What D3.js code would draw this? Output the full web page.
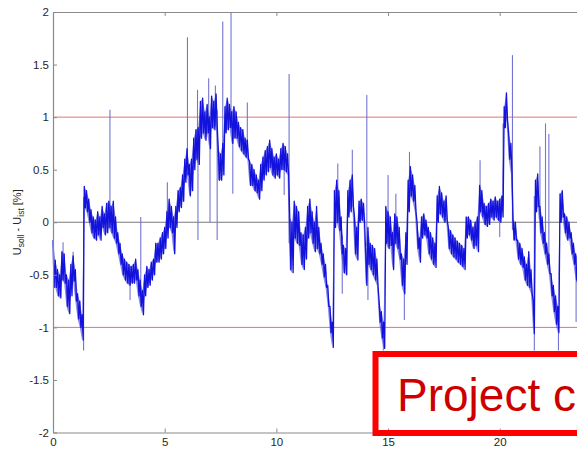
<!DOCTYPE html>
<html>
<head>
<meta charset="utf-8">
<script src="https://cdn.jsdelivr.net/npm/d3@7"></script>
<style>
  html, body { margin: 0; padding: 0; background: #fff; overflow: hidden; }
  svg { display: block; font-family: "Liberation Sans", Arial, sans-serif; }
</style>
</head>
<body>
<svg id="chart" width="577" height="450"></svg>
<script>
// Sampling interval of the deviation record, in hours
const sampleStep = 0.1;

// Upper edge of the fluctuating deviation band per sample, %
const bandHigh = [
  -0.17,-0.36,-0.45,-0.50,-0.28,-0.30,-0.50,-0.55,-0.40,-0.32,
  -0.45,-0.68,-0.75,-0.88, 0.34, 0.30, 0.22, 0.12, 0.05, 0.02,
   0.10, 0.05, 0.15, 0.08, 0.18, 0.20, 0.15, 0.20, 0.05,-0.10,
  -0.20,-0.30,-0.35,-0.38,-0.40,-0.42,-0.40,-0.35,-0.45,-0.55,
  -0.65,-0.50,-0.42,-0.45,-0.38,-0.35,-0.20,-0.20,-0.15,-0.10,
  -0.05, 0.10, 0.22, 0.15, 0.05, 0.15, 0.30, 0.33, 0.45, 0.60,
   0.70, 0.55, 0.60, 0.80, 0.88, 0.90, 1.15, 1.18, 1.05, 1.12,
   1.00, 1.20, 1.15, 1.22, 0.70, 0.65, 0.75, 1.10, 1.18, 1.12,
   1.05, 1.10, 1.05, 0.95, 0.90, 0.88, 0.80, 0.78, 0.58, 0.55,
   0.50, 0.45, 0.40, 0.55, 0.62, 0.68, 0.72, 0.78, 0.70, 0.62,
   0.65, 0.60, 0.70, 0.75, 0.72, 0.65, 0.05, 0.00, 0.20, 0.15,
   0.10,-0.10,-0.12,-0.05, 0.15, 0.22, 0.10, 0.00, 0.15,-0.05,
  -0.20,-0.30,-0.40,-0.60,-0.80,-0.95, 0.30, 0.40, 0.30, 0.05,
  -0.22,-0.25, 0.30, 0.40, 0.45, 0.05,-0.05, 0.20, 0.22, 0.18,
  -0.30,-0.05,-0.20,-0.22,-0.25,-0.35,-0.75,-0.85,-0.95, 0.15,
   0.10, 0.05,-0.10, 0.08, 0.05,-0.05,-0.30,-0.35,-0.10, 0.40,
   0.53, 0.45, 0.35, 0.00,-0.15, 0.05, 0.08, 0.02,-0.05,-0.10,
  -0.15,-0.20, 0.25, 0.34, 0.28, 0.20, 0.25,-0.05,-0.08,-0.12,
  -0.15,-0.18,-0.20,-0.22,-0.25, 0.05, 0.05, 0.02,-0.05, 0.00,
   0.05, 0.35, 0.30, 0.18, 0.15, 0.18, 0.22, 0.20, 0.24, 0.20,
   0.22, 0.25, 1.10, 1.23, 0.85, 0.75, 0.02, 0.00,-0.17,-0.20,
  -0.25,-0.33,-0.40,-0.28,-0.45,-0.74, 0.40, 0.46, 0.15, 0.05,
  -0.10,-0.20,-0.30,-0.49,-0.60,-0.70,-0.80, 0.27, 0.30, 0.08,
   0.05, 0.00,-0.10,-0.20,-0.30,-0.35
];

// Lower edge of the fluctuating deviation band per sample, %
const bandLow = [
  -0.62,-0.62,-0.70,-0.72,-0.55,-0.58,-0.80,-0.87,-0.70,-0.56,
  -0.75,-0.92,-1.00,-1.12, 0.14, 0.10, 0.00,-0.10,-0.15,-0.17,
  -0.12,-0.17,-0.05,-0.12,-0.10,-0.05,-0.10,-0.15,-0.20,-0.30,
  -0.40,-0.50,-0.55,-0.58,-0.60,-0.58,-0.58,-0.55,-0.70,-0.80,
  -0.88,-0.70,-0.62,-0.60,-0.55,-0.50,-0.38,-0.38,-0.35,-0.30,
  -0.25,-0.15,-0.05,-0.10,-0.30,-0.05, 0.10, 0.14, 0.20, 0.38,
   0.45, 0.25, 0.30, 0.50, 0.60, 0.55, 0.80, 0.85, 0.78, 0.85,
   0.70, 0.90, 0.88, 0.92, 0.40, 0.40, 0.45, 0.85, 0.88, 0.90,
   0.75, 0.80, 0.80, 0.72, 0.68, 0.65, 0.62, 0.60, 0.35, 0.35,
   0.30, 0.28, 0.22, 0.30, 0.40, 0.45, 0.48, 0.52, 0.45, 0.42,
   0.45, 0.42, 0.50, 0.50, 0.48, 0.45,-0.45,-0.48,-0.15,-0.20,
  -0.22,-0.40,-0.45,-0.35,-0.15,-0.10,-0.20,-0.28,-0.25,-0.30,
  -0.40,-0.52,-0.62,-0.80,-1.05,-1.19,-0.05, 0.00,-0.08,-0.30,
  -0.48,-0.50, 0.05, 0.10, 0.15,-0.30,-0.36, 0.00, 0.02, 0.00,
  -0.60,-0.40,-0.45,-0.50,-0.55,-0.60,-0.95,-1.10,-1.20,-0.20,
  -0.25,-0.22,-0.45,-0.20,-0.25,-0.35,-0.60,-0.68,-0.40, 0.10,
   0.25, 0.20, 0.10,-0.25,-0.38,-0.15,-0.12,-0.15,-0.30,-0.35,
  -0.40,-0.43, 0.00, 0.08, 0.05, 0.00, 0.02,-0.25,-0.30,-0.33,
  -0.35,-0.38,-0.40,-0.42,-0.45,-0.15,-0.12,-0.17,-0.25,-0.22,
  -0.28, 0.10, 0.05,-0.02,-0.04,-0.02, 0.05, 0.02, 0.05, 0.02,
   0.00, 0.05, 0.90, 0.97, 0.60, 0.46,-0.17,-0.17,-0.35,-0.40,
  -0.43,-0.55,-0.60,-0.62,-0.68,-1.06, 0.10, 0.15,-0.10,-0.20,
  -0.30,-0.40,-0.49,-0.70,-0.85,-0.97,-1.05, 0.00, 0.05,-0.10,
  -0.17,-0.15,-0.30,-0.40,-0.55,-0.60
];

// Single-sample outliers: time (h) and deviation (%)
const spikeTime = [0.45, 0.9, 1.37, 2.55, 3.45, 3.93, 5.12, 6.02, 6.47, 6.49, 6.97, 7.03,
  7.27, 7.35, 7.6, 7.97, 8.05, 8.7, 10.35, 10.57, 12.75, 12.95, 13.4, 14.05, 14.1,
  14.79, 15.0, 15.35, 15.73, 15.96, 19.12, 20.0, 20.15, 20.57, 21.55, 21.8, 22.05,
  22.2, 22.63, 23.42];
const spikeValue = [-0.19, -0.28, -1.22, 1.07, -0.74, 0.05, 0.38, 1.76, 1.26, -0.17, 1.37, 0.0,
  1.30, -0.17, 1.91, 2.0, 0.27, 1.14, 0.26, 1.41, 0.56, -0.68, 0.69, 1.21, -0.74,
  -1.22, 0.45, 0.27, -0.93, 0.67, 0.59, -0.14, 0.94, 1.59, -1.22, 0.72, 0.94,
  0.84, -1.22, -0.95];

// Tolerance limits and reference line, %
const limitLines = [1, -1];
const referenceLine = 0;

const xTicks = [0, 5, 10, 15, 20];
const xTickLabels = ["0", "5", "10", "15", "20"];
const yTicks = [-2, -1.5, -1, -0.5, 0, 0.5, 1, 1.5, 2];
const yTickLabels = ["-2", "-1.5", "-1", "-0.5", "0", "0.5", "1", "1.5", "2"];

const noteText = "Project c";

const svg = d3.select("#chart");
const x = d3.scaleLinear().domain([0, 25]).range([53, 611.4]);
const y = d3.scaleLinear().domain([-2, 2]).range([432.5, 12]);

// Reference and limit lines
svg.append("line")
  .attr("x1", x(0)).attr("x2", x(25))
  .attr("y1", y(referenceLine)).attr("y2", y(referenceLine))
  .attr("stroke", "#7a7a7a").attr("stroke-width", 1);
svg.selectAll("line.limit").data(limitLines).join("line")
  .attr("class", "limit")
  .attr("x1", x(0)).attr("x2", x(25))
  .attr("y1", d => y(d)).attr("y2", d => y(d))
  .attr("stroke", "#dc7474").attr("stroke-width", 1);

// Outlier samples drawn as thin excursions from the band
svg.selectAll("line.spike").data(spikeTime).join("line")
  .attr("class", "spike")
  .attr("x1", d => x(d)).attr("x2", d => x(d))
  .attr("y1", (d, i) => {
    const k = Math.min(bandHigh.length - 1, Math.round(d / sampleStep));
    return y((bandHigh[k] + bandLow[k]) / 2);
  })
  .attr("y2", (d, i) => y(spikeValue[i]))
  .attr("stroke", "#7474d2").attr("stroke-width", 1.1);

// Band body, then the dense trace alternating between its edges
const band = bandHigh.map((hi, i) => ({ t: i * sampleStep, hi, lo: bandLow[i] }));
svg.append("path")
  .datum(band)
  .attr("fill", "#2a2ad8")
  .attr("fill-opacity", 0.55)
  .attr("d", d3.area().x(d => x(d.t)).y0(d => y(d.lo)).y1(d => y(d.hi)));

const trace = [];
band.forEach(d => {
  trace.push([d.t, d.hi]);
  trace.push([d.t + sampleStep / 2, d.lo]);
});
svg.append("path")
  .datum(trace)
  .attr("fill", "none")
  .attr("stroke", "#1212dc")
  .attr("stroke-width", 1.3)
  .attr("stroke-linejoin", "round")
  .attr("d", d3.line().x(d => x(d[0])).y(d => y(d[1])));

// Axes (ticks point inward)
const axisColor = "#8a8a8a";
const labelColor = "#262626";

const gLeft = svg.append("g").attr("transform", `translate(${x(0)},0)`)
  .call(d3.axisLeft(y).tickValues(yTicks)
    .tickFormat((d, i) => yTickLabels[i])
    .tickSizeInner(-4).tickSizeOuter(0).tickPadding(4));
const gBottom = svg.append("g").attr("transform", `translate(0,${y(-2)})`)
  .call(d3.axisBottom(x).tickValues(xTicks)
    .tickFormat((d, i) => xTickLabels[i])
    .tickSizeInner(-4).tickSizeOuter(0).tickPadding(5));
const gTop = svg.append("g").attr("transform", `translate(0,${y(2)})`)
  .call(d3.axisTop(x).tickValues(xTicks)
    .tickFormat(() => "")
    .tickSizeInner(-4).tickSizeOuter(0));

[gLeft, gBottom, gTop].forEach(g => {
  g.select(".domain").attr("stroke", axisColor).attr("stroke-width", 1.2);
  g.selectAll(".tick line").attr("stroke", axisColor);
  g.selectAll(".tick text")
    .attr("fill", labelColor)
    .style("font-family", "'Liberation Sans', Arial, sans-serif")
    .style("font-size", "11.5px");
});

// Y-axis title with subscripts
const yTitle = svg.append("text")
  .attr("transform", `translate(21,${(y(2) + y(-2)) / 2}) rotate(-90)`)
  .attr("text-anchor", "middle")
  .attr("fill", labelColor)
  .style("font-size", "11px");
yTitle.append("tspan").text("U");
yTitle.append("tspan").attr("dy", 3).style("font-size", "8.5px").text("soll");
yTitle.append("tspan").attr("dy", -3).text(" - U");
yTitle.append("tspan").attr("dy", 3).style("font-size", "8.5px").text("ist");
yTitle.append("tspan").attr("dy", -3).text(" [%]");

// Annotation box
svg.append("rect")
  .attr("x", 375.5).attr("y", 354)
  .attr("width", 300).attr("height", 79)
  .attr("fill", "none")
  .attr("stroke", "#ff0000").attr("stroke-width", 6);
svg.append("text")
  .attr("x", 397).attr("y", 410.5)
  .attr("fill", "#cc0000")
  .style("font-size", "46px")
  .text(noteText);
</script>
</body>
</html>
